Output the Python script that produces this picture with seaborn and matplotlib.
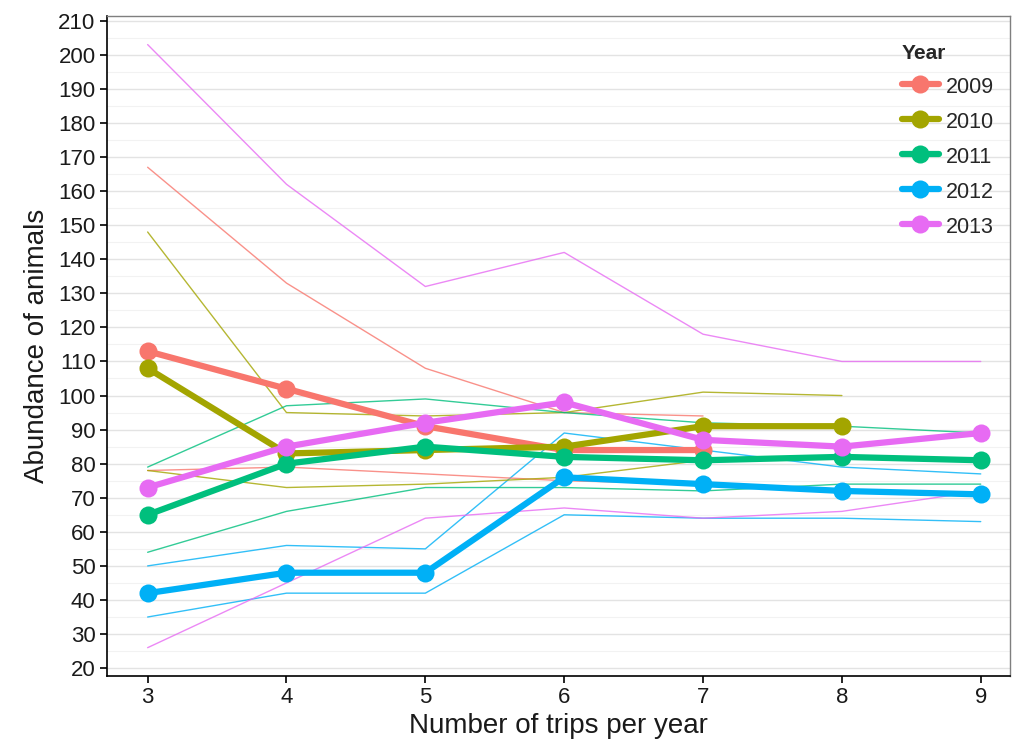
import pandas as pd
import matplotlib.pyplot as plt
import seaborn as sns
import numpy as np

years = ["2009", "2010", "2011", "2012", "2013"]
trips = [3, 4, 5, 6, 7, 8, 9]

# mean abundance per year (thick lines)
mean_2009 = [113, 102, 91, 84, 84]
mean_2010 = [108, 83, 84, 85, 91, 91]
mean_2011 = [65, 80, 85, 82, 81, 82, 81]
mean_2012 = [42, 48, 48, 76, 74, 72, 71]
mean_2013 = [73, 85, 92, 98, 87, 85, 89]

# upper / lower bounds (thin lines)
upper_2009 = [167, 133, 108, 95, 94]
lower_2009 = [78, 79, 77, 75, 74]
upper_2010 = [148, 95, 94, 95, 101, 100]
lower_2010 = [78, 73, 74, 76, 81, 82]
upper_2011 = [79, 97, 99, 95, 92, 91, 89]
lower_2011 = [54, 66, 73, 73, 72, 74, 74]
upper_2012 = [50, 56, 55, 89, 84, 79, 77]
lower_2012 = [35, 42, 42, 65, 64, 64, 63]
upper_2013 = [203, 162, 132, 142, 118, 110, 110]
lower_2013 = [26, 45, 64, 67, 64, 66, 72]

means = [mean_2009, mean_2010, mean_2011, mean_2012, mean_2013]
uppers = [upper_2009, upper_2010, upper_2011, upper_2012, upper_2013]
lowers = [lower_2009, lower_2010, lower_2011, lower_2012, lower_2013]

rows = []
for yr, m, u, l in zip(years, means, uppers, lowers):
    for i in range(len(m)):
        rows.append({"Year": yr, "trips": trips[i], "mean": m[i], "upper": u[i], "lower": l[i]})
df = pd.DataFrame(rows)

palette = dict(zip(years, ["#F8766D", "#A3A500", "#00BF7D", "#00B0F6", "#E76BF3"]))

sns.set_style("white")
plt.rcParams["font.family"] = ["Liberation Sans", "DejaVu Sans"]

fig, ax = plt.subplots(figsize=(10.16, 7.44), dpi=100)

for col in ["upper", "lower"]:
    sns.lineplot(data=df, x="trips", y=col, hue="Year", palette=palette,
                 linewidth=1.0, alpha=0.8, legend=False, ax=ax, sort=False,
                 estimator=None)

sns.lineplot(data=df, x="trips", y="mean", hue="Year", palette=palette,
             linewidth=4.5, marker="o", markersize=13, markeredgewidth=0,
             ax=ax, sort=False, estimator=None)

ax.set_xlim(2.705, 9.21)
ax.set_ylim(17.6, 211.5)
ax.set_xticks(trips)
ax.set_yticks(np.arange(20, 211, 10))
ax.set_yticks(np.arange(25, 211, 10), minor=True)
ax.grid(axis="y", which="major", color="#e3e3e3", linewidth=1.0)
ax.grid(axis="y", which="minor", color="#f2f2f2", linewidth=0.8)
ax.grid(axis="x", visible=False)
ax.set_axisbelow(True)

for side in ["top", "right"]:
    ax.spines[side].set_color("#7f7f7f")
    ax.spines[side].set_linewidth(1.0)
for side in ["left", "bottom"]:
    ax.spines[side].set_color("black")
    ax.spines[side].set_linewidth(1.2)

ax.tick_params(axis="both", which="major", length=5, width=1.2, color="black",
               labelsize=16, labelcolor="#1a1a1a", left=True, bottom=True, pad=3)
ax.tick_params(axis="y", which="minor", length=0)

ax.set_xlabel("Number of trips per year", fontsize=20, labelpad=3, color="#1a1a1a")
ax.set_ylabel("Abundance of animals", fontsize=20, labelpad=6, color="#1a1a1a")

leg = ax.legend(title="Year", loc="upper right", bbox_to_anchor=(0.997, 0.977),
                fontsize=15.5, title_fontsize=15, frameon=False,
                handlelength=1.7, handleheight=1.2, labelspacing=0.55,
                handletextpad=0.35, borderaxespad=0.2)
leg.get_title().set_fontweight("bold")
leg._legend_box.align = "left"

plt.subplots_adjust(left=0.105, right=0.994, top=0.979, bottom=0.091)
plt.savefig("out.png", dpi=100)
